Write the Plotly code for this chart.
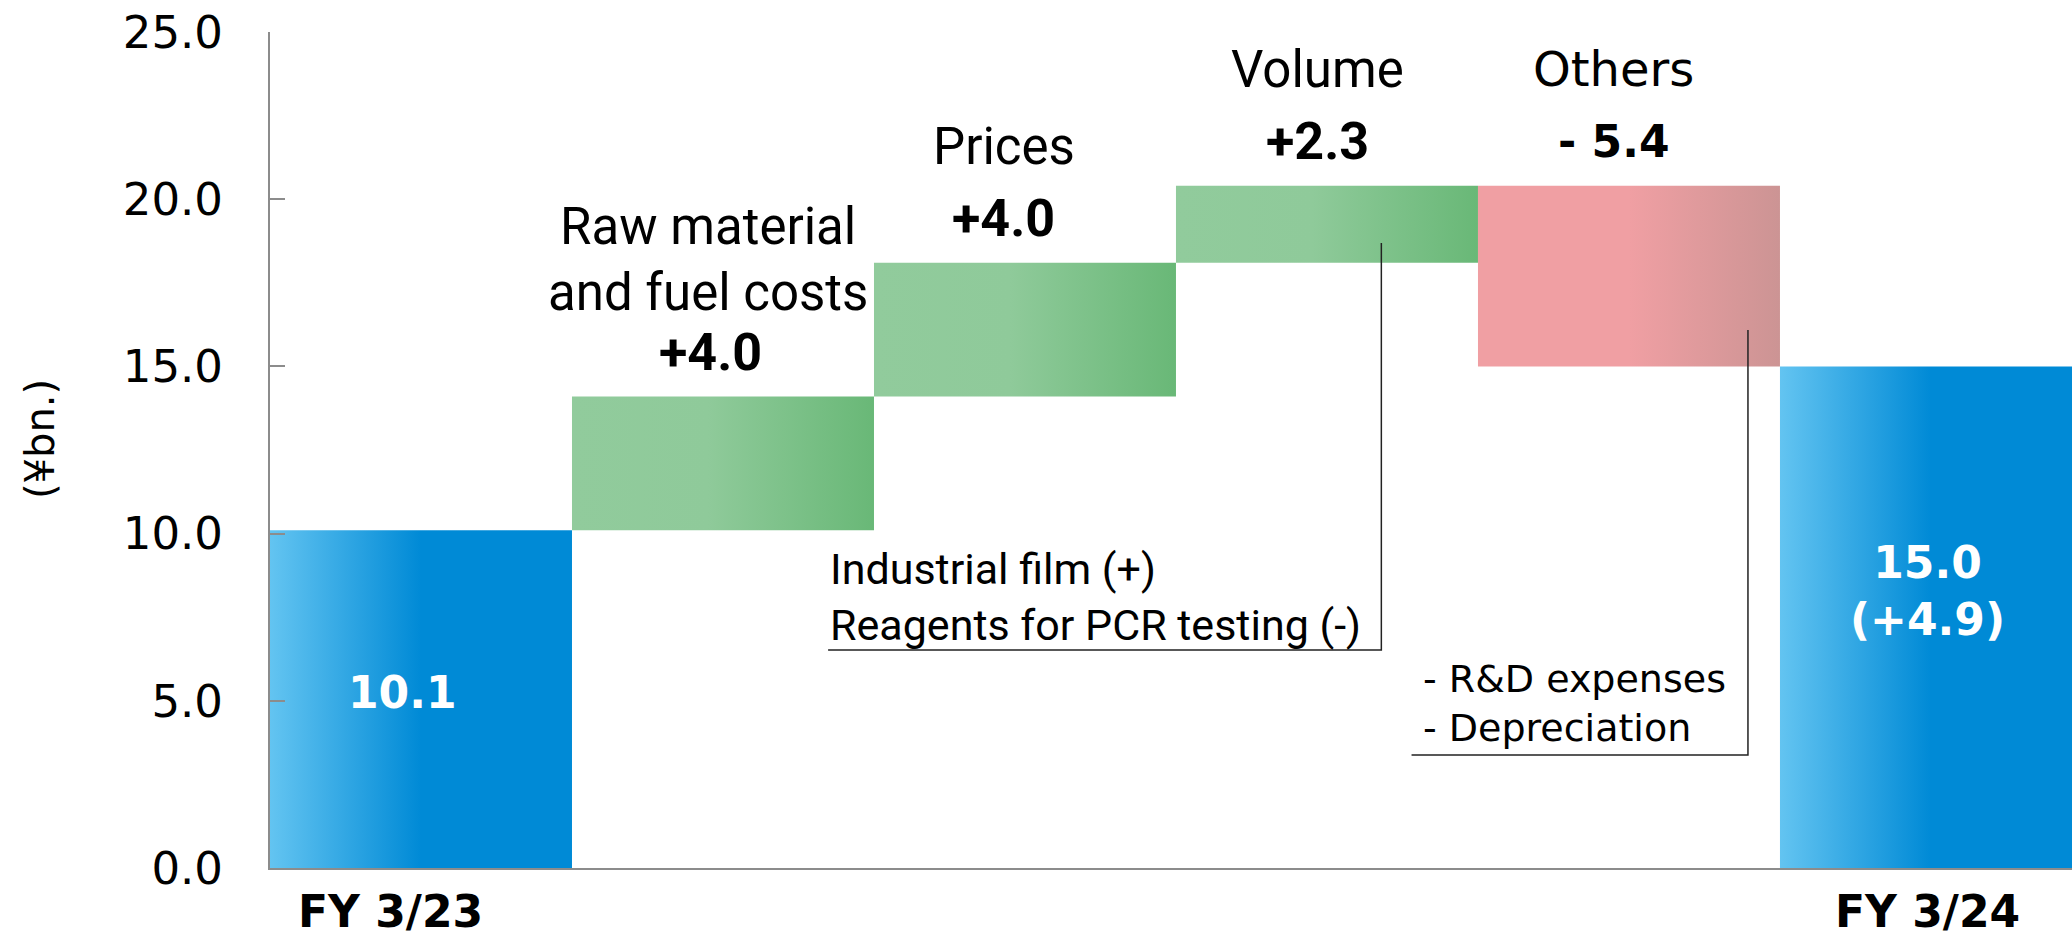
import plotly.graph_objects as go

# ---- data ----
categories = ["FY 3/23", "Raw material and fuel costs", "Prices", "Volume", "Others", "FY 3/24"]
changes = [10.1, 4.0, 4.0, 2.3, -5.4, 15.0]
kinds = ["total", "delta", "delta", "delta", "delta", "total"]
value_labels = ["10.1", "+4.0", "+4.0", "+2.3", "- 5.4", "15.0<br>(+4.9)"]
step_names = ["", "Raw material<br>and fuel costs", "Prices", "Volume", "Others", ""]
y_ticks = [0, 5, 10, 15, 20, 25]
note_volume = "Industrial film (+)<br>Reagents for PCR testing (-)"
note_others = "- R&amp;D expenses<br>- Depreciation"

# ---- compute bases / tops ----
bases, tops = [], []
running = 0.0
for k, v in zip(kinds, changes):
    if k == "total":
        bases.append(0.0)
        tops.append(v)
        running = v
    else:
        lo, hi = (running, running + v) if v >= 0 else (running + v, running)
        bases.append(lo)
        tops.append(hi)
        running += v

BLUE = [[0, "#63C4F1"], [0.5, "#008AD6"], [1, "#008AD6"]]
GREEN = [[0, "#91CB9C"], [0.45, "#8FCA9A"], [1, "#69B877"]]
RED = [[0, "#F09FA3"], [0.5, "#F09FA3"], [1, "#CC9494"]]

fig = go.Figure()
for i, (k, v) in enumerate(zip(kinds, changes)):
    cs = BLUE if k == "total" else (GREEN if v >= 0 else RED)
    x0, x1 = i - 0.5, i + 0.5
    fig.add_trace(go.Scatter(
        x=[x0, x1, x1, x0, x0],
        y=[bases[i], bases[i], tops[i], tops[i], bases[i]],
        mode="lines", line=dict(width=0), fill="toself",
        fillgradient=dict(type="horizontal", colorscale=cs),
        hoverinfo="skip", showlegend=False, name=categories[i],
    ))

annotations = []
# white labels inside total bars
annotations.append(dict(x=0 - 0.06, y=tops[0] * 0.52, text=value_labels[0], showarrow=False,
                        font=dict(family="DejaVu Sans", size=44, color="white", weight="bold")))
annotations.append(dict(x=5 - 0.01, y=tops[5] * 0.553, text=value_labels[5], showarrow=False,
                        font=dict(family="DejaVu Sans", size=44, color="white", weight="bold")))

name_fonts = {1: ("Roboto", 51), 2: ("Roboto", 51), 3: ("Roboto", 51), 4: ("DejaVu Sans", 48)}
val_fonts = {1: ("Roboto", 52), 2: ("Roboto", 52), 3: ("Roboto", 52), 4: ("DejaVu Sans", 44)}
x_shift = {1: -0.04, 2: -0.07, 3: -0.03, 4: -0.05}
for i in range(1, 5):
    vy = tops[i] + 1.33
    annotations.append(dict(x=i + x_shift[i], y=vy, text=value_labels[i], showarrow=False,
                            font=dict(family=val_fonts[i][0], size=val_fonts[i][1], color="black", weight="bold")))
    ny = vy + (2.77 if "<br>" in step_names[i] else 2.15)
    annotations.append(dict(x=i + x_shift[i] - (0.01 if i == 1 else 0), y=ny, text=step_names[i], showarrow=False,
                            font=dict(family=name_fonts[i][0], size=name_fonts[i][1], color="black"),
                            align="center"))

# category labels under the two total bars
for i, dx in ((0, -0.1), (5, -0.01)):
    annotations.append(dict(x=i + dx, y=0, yref="y", yanchor="top", yshift=-16, text=categories[i],
                            showarrow=False,
                            font=dict(family="DejaVu Sans", size=44, color="black", weight="bold")))

# notes
annotations.append(dict(x=1.348, y=8.10, text=note_volume, showarrow=False, xanchor="left",
                        align="left", font=dict(family="Roboto", size=43, color="black")))
annotations.append(dict(x=3.311, y=4.93, text=note_others, showarrow=False, xanchor="left",
                        align="left", font=dict(family="DejaVu Sans", size=38, color="black")))

# y-axis title
annotations.append(dict(xref="paper", yref="paper", x=(40 - 270) / 1802, y=(868 - 439) / 836,
                        text="(¥bn.)", textangle=-90, showarrow=False, xanchor="center", yanchor="middle",
                        font=dict(family="DejaVu Sans", size=40, color="black")))

# connector lines for notes
fig.add_trace(go.Scatter(x=[3.18, 3.18, 1.348], y=[18.69, 6.52, 6.52], mode="lines",
                         line=dict(color="#222222", width=1.5), hoverinfo="skip", showlegend=False))
fig.add_trace(go.Scatter(x=[4.394, 4.394, 3.28], y=[16.09, 3.38, 3.38], mode="lines",
                         line=dict(color="#222222", width=1.5), hoverinfo="skip", showlegend=False))

fig.update_layout(
    width=2072, height=936,
    margin=dict(l=270, r=0, t=32, b=68, autoexpand=False),
    paper_bgcolor="white", plot_bgcolor="white",
    showlegend=False,
    annotations=annotations,
    xaxis=dict(range=[-0.5, 5.467], showticklabels=False,
               showgrid=False, zeroline=False, showline=True, linecolor="#8C8C8C", linewidth=2,
               ticks="", automargin=False, fixedrange=True),
    yaxis=dict(range=[0, 25], tickvals=y_ticks, tickformat=".1f",
               showgrid=False, zeroline=False, showline=True, linecolor="#8C8C8C", linewidth=2,
               ticks="inside", ticklen=15, tickwidth=2, tickcolor="#8C8C8C",
               tickfont=dict(family="DejaVu Sans", size=45, color="black"),
               ticklabelstandoff=36, automargin=False, fixedrange=True),
)

fig.write_html(
    "out.html",
    config={"displayModeBar": False},
    post_script="document.body.style.margin='0';document.body.style.overflow='hidden';",
)
